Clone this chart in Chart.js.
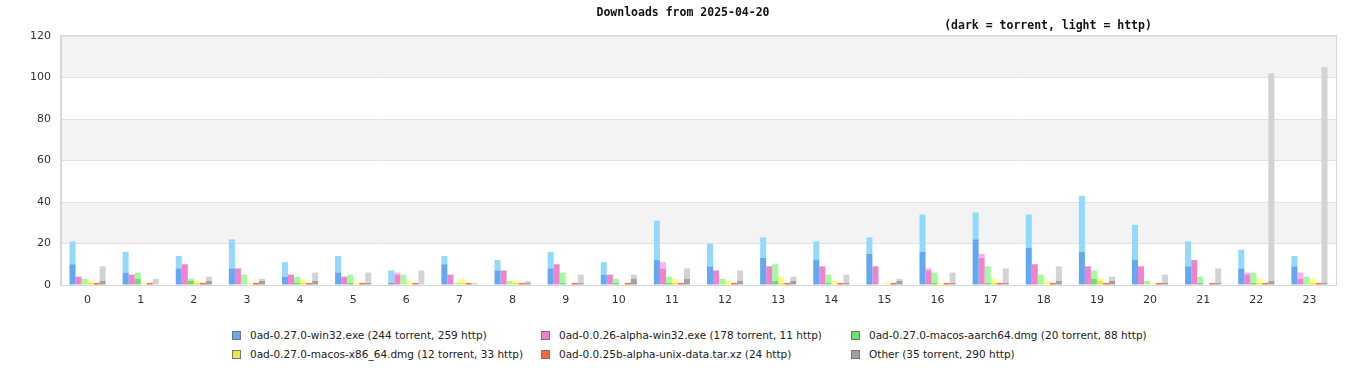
<!DOCTYPE html>
<html>
<head>
<meta charset="utf-8">
<script src="https://cdn.jsdelivr.net/npm/chart.js@4"></script>
<style>
  body { margin: 0; background: #fff; }
  #wrap { position: relative; width: 1366px; height: 380px; }
  #c { position: absolute; left: 0; top: 0; }
  #legend {
    position: absolute; left: 232px; top: 327px;
    display: grid; grid-template-columns: 309px 310px auto;
    row-gap: 2px;
    font: 10.5px "DejaVu Sans", sans-serif; color: #222;
  }
  #legend div { height: 17px; line-height: 17px; white-space: nowrap; }
  #legend span.box {
    display: inline-block; width: 7px; height: 7px; border: 1px solid #777;
    margin-right: 9px; vertical-align: -1px;
  }
</style>
</head>
<body>
<div id="wrap">
  <canvas id="c" width="1366" height="310"></canvas>
  <div id="legend"></div>
</div>
<script>
var TITLE = "Downloads from 2025-04-20";
var SUBTITLE = "(dark = torrent, light = http)";

var hours = ["0","1","2","3","4","5","6","7","8","9","10","11","12","13","14","15","16","17","18","19","20","21","22","23"];
var yTicks = [0, 20, 40, 60, 80, 100, 120];

var files = [
  "0ad-0.27.0-win32.exe",
  "0ad-0.0.26-alpha-win32.exe",
  "0ad-0.27.0-macos-aarch64.dmg",
  "0ad-0.27.0-macos-x86_64.dmg",
  "0ad-0.0.25b-alpha-unix-data.tar.xz",
  "Other"
];

// torrent (dark) / http (light) per hour
var winTorrent    = [10,6,8,8,4,6,1,10,7,8,5,12,9,13,12,15,16,22,18,16,12,9,8,9];
var winHttp       = [11,10,6,14,7,8,6,4,5,8,6,19,11,10,9,8,18,13,16,27,17,12,9,5];
var win26Torrent  = [4,5,10,8,5,4,5,5,7,10,5,8,7,9,9,9,7,13,10,9,9,12,5,3];
var win26Http     = [0,0,0,0,0,0,1,0,0,0,0,3,0,0,0,0,1,2,0,0,0,0,1,3];
var armTorrent    = [0,3,2,0,1,1,0,0,0,1,1,1,0,2,1,0,1,1,0,3,0,1,1,0];
var armHttp       = [3,3,1,5,3,4,5,1,2,5,2,3,3,8,4,0,5,8,5,4,2,3,5,4];
var x86Torrent    = [1,0,1,0,1,0,0,1,1,0,0,1,0,1,0,0,0,1,0,2,0,0,1,1];
var x86Http       = [1,1,1,1,2,1,2,2,1,0,0,2,2,3,2,1,1,2,2,1,1,0,2,2];
var dataTorrent   = [0,0,0,0,0,0,0,0,0,0,0,0,0,0,0,0,0,0,0,0,0,0,0,0];
var dataHttp      = [1,1,1,1,1,1,1,1,1,1,1,1,1,1,1,1,1,1,1,1,1,1,1,1];
var otherTorrent  = [2,0,2,2,2,1,0,0,1,1,3,3,2,2,1,2,1,1,2,2,1,1,2,1];
var otherHttp     = [7,3,2,1,4,5,7,1,1,4,2,5,5,2,4,1,5,7,7,2,4,7,100,104];

var torrentSeries = [winTorrent, win26Torrent, armTorrent, x86Torrent, dataTorrent, otherTorrent];
var httpSeries    = [winHttp, win26Http, armHttp, x86Http, dataHttp, otherHttp];

var darkColors  = ["#62a8f2", "#f282cc", "#6edc6e", "#e6e64c", "#ff6a40", "#a2a2a2"];
var lightColors = ["#93d9fc", "#fcaefa", "#9ffe9b", "#fefe82", "#ff6a40", "#d3d3d3"];
var legendColors = ["#6aaaf0", "#f07fd0", "#6de06d", "#e8e84a", "#f06a40", "#a0a0a0"];

function sum(a) { return a.reduce((s, v) => s + v, 0); }

function labelFor(i) {
  var parts = [];
  var t = sum(torrentSeries[i]), h = sum(httpSeries[i]);
  if (t > 0) parts.push(t + " torrent");
  if (h > 0) parts.push(h + " http");
  return files[i] + " (" + parts.join(", ") + ")";
}

var datasets = [];
files.forEach((f, i) => {
  datasets.push({ label: f + " torrent", data: torrentSeries[i], stack: "s" + i,
    backgroundColor: darkColors[i], borderWidth: 0 });
  datasets.push({ label: f + " http", data: httpSeries[i], stack: "s" + i,
    backgroundColor: lightColors[i], borderWidth: 0 });
});

// html legend, 3 columns
var legend = document.getElementById("legend");
files.forEach((f, i) => {
  var d = document.createElement("div");
  d.innerHTML = '<span class="box" style="background:' + legendColors[i] + '"></span>' + labelFor(i);
  legend.appendChild(d);
});

const framePlugin = {
  id: "frame",
  beforeDraw(chart) {
    const ctx = chart.ctx;
    const a = chart.chartArea;
    const y = chart.scales.y;
    ctx.save();
    ctx.fillStyle = "#f3f3f3";
    for (let i = 1; i < yTicks.length; i += 2) {
      const top = y.getPixelForValue(yTicks[i + 1]);
      const bot = y.getPixelForValue(yTicks[i]);
      ctx.fillRect(a.left, top, a.right - a.left, bot - top);
    }
    ctx.restore();
  },
  afterDraw(chart) {
    const ctx = chart.ctx;
    const a = chart.chartArea;
    ctx.save();
    ctx.strokeStyle = "#d8d8d8";
    ctx.lineWidth = 1;
    ctx.strokeRect(a.left - 0.5, a.top - 0.5, a.right - a.left + 1, a.bottom - a.top + 1);
    ctx.fillStyle = "#111";
    ctx.font = "bold 11.5px 'DejaVu Sans Mono', monospace";
    ctx.textAlign = "center";
    ctx.textBaseline = "middle";
    ctx.fillText(TITLE, 683, 13);
    ctx.fillText(SUBTITLE, 1048, 26);
    ctx.restore();
  }
};

new Chart(document.getElementById("c"), {
  type: "bar",
  data: { labels: hours, datasets: datasets },
  plugins: [framePlugin],
  options: {
    responsive: false,
    animation: false,
    layout: { padding: { top: 36, right: 30, left: 0, bottom: 0 } },
    datasets: { bar: { categoryPercentage: 0.68, barPercentage: 1.0 } },
    plugins: { legend: { display: false }, tooltip: { enabled: false } },
    scales: {
      x: {
        stacked: true,
        grid: { display: false, drawTicks: false },
        border: { color: "#d8d8d8" },
        ticks: { color: "#333", padding: 9, font: { family: "DejaVu Sans", size: 11 } },
        afterFit(s) { s.height = 25; }
      },
      y: {
        stacked: true,
        min: yTicks[0], max: yTicks[yTicks.length - 1],
        afterBuildTicks(s) { s.ticks = yTicks.map(v => ({ value: v })); },
        grid: { color: "#e2e2e2", drawTicks: false },
        border: { color: "#d8d8d8" },
        ticks: { color: "#333", padding: 10, font: { family: "DejaVu Sans", size: 11 } },
        afterFit(s) { s.width = 61; }
      }
    }
  }
});
</script>
</body>
</html>
